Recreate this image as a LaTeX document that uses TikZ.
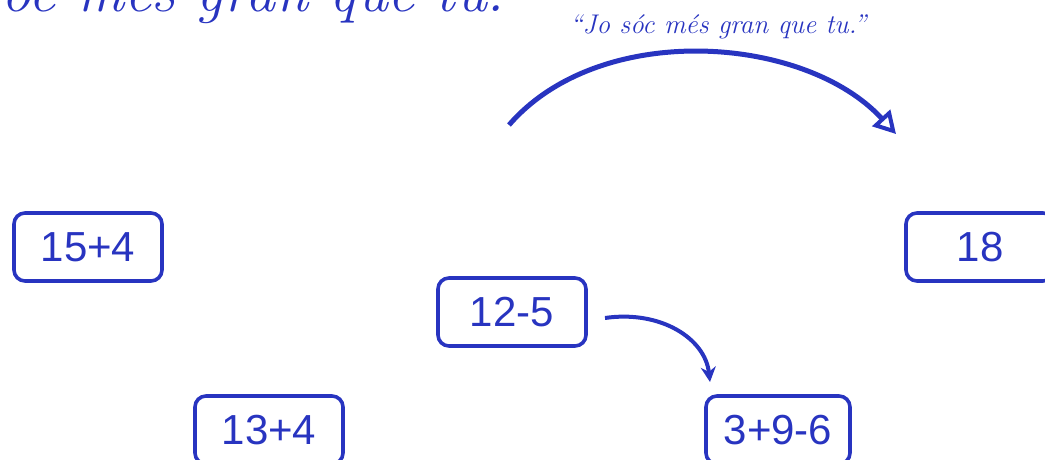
\documentclass[tikz,border=0pt]{standalone}
\usepackage{fontspec}
\newfontfamily\numfont{Liberation Sans}
\usetikzlibrary{arrows.meta}
\definecolor{ink}{RGB}{40,52,192}
\begin{document}
\begin{tikzpicture}[x=1pt,y=-1pt,
  numbox/.style={draw=ink, line width=3.6pt, rounded corners=11pt, minimum width=148pt, minimum height=68pt, inner sep=0pt, text=ink, font=\numfont\fontsize{42}{42}\selectfont},
  arcline/.style={draw=ink, line width=5pt},
  smallarrow/.style={draw=ink, line width=4pt, -{Stealth[length=15pt,width=15pt]}}]
\useasboundingbox (0,0) rectangle (1045,460);
\clip (0,0) rectangle (1045,460);
\node[anchor=base east, text=ink, font=\itshape\fontsize{60}{60}\selectfont, inner sep=0pt] (title) at (505,12) {Jo sóc més gran que tu.};
\node[text=ink, font=\itshape\fontsize{27}{27}\selectfont, inner sep=0pt] (quote) at (718,27) {“Jo sóc més gran que tu.”};
\node[numbox] (a) at (88,247) {15+4};
\node[numbox] (b) at (980,247) {18};
\node[numbox] (c) at (512,312) {12-5};
\node[numbox] (d) at (269,430) {13+4};
\node[numbox, minimum width=144pt] (e) at (778,430) {3+9-6};
\coordinate (arcstart) at (509,125);
\coordinate (arcend) at (896,134);
\draw[arcline, -{Triangle[open, length=22pt, width=24pt, line width=4pt]}] (arcstart) .. controls (600,20) and (805,35) .. (arcend);
\coordinate (sstart) at (605,318);
\coordinate (send) at (710,382);
\draw[smallarrow] (sstart) .. controls (660,310) and (705,338) .. (send);
\end{tikzpicture}
\end{document}
